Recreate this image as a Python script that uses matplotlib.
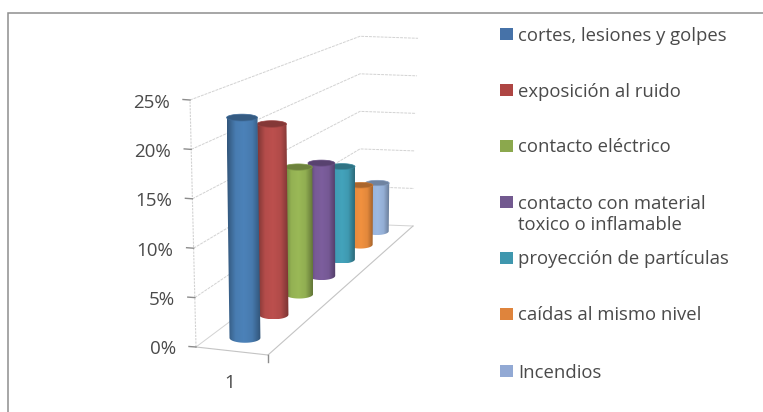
import numpy as np
import matplotlib
matplotlib.use('Agg')
import matplotlib.pyplot as plt
from matplotlib.patches import Polygon, Rectangle
from matplotlib.colors import to_rgb, LinearSegmentedColormap

categories = ['cortes, lesiones y golpes', 'exposición al ruido', 'contacto eléctrico',
              'contacto con material\ntoxico o inflamable', 'proyección de partículas',
              'caídas al mismo nivel', 'Incendios']
values = [22.8, 20.6, 14.3, 13.2, 11.3, 7.5, 6.3]
value_ticks = [0, 5, 10, 15, 20, 25]
tick_labels = ['0%', '5%', '10%', '15%', '20%', '25%']
category_label = '1'
body_colors = ['#4A7FB5', '#B84E4C', '#97B555', '#7A5C9A', '#42A0B8', '#EC8E3E', '#9AB6DE']
legend_colors = ['#4672A8', '#AE4543', '#8BA84D', '#72598F', '#3F97AE', '#DF843C', '#92A9D4']
legend_y = [34, 90, 146, 202, 258, 314, 371]

plt.rcParams['font.family'] = ['Open Sans', 'DejaVu Sans']
fig = plt.figure(figsize=(7.63, 4.12), dpi=100)
ax = fig.add_axes([0, 0, 1, 1])
ax.set_xlim(0, 763); ax.set_ylim(412, 0); ax.axis('off')

# oblique scene projection: floor corners on screen, then height & lean
src = np.array([[0, 0], [1, 0], [0, 1], [1, 1]], float)
dst = np.array([[196, 347], [268, 355], [360, 224], [413, 226]], float)
A = []; b = []
for (u, v), (X, Y) in zip(src, dst):
    A.append([u, v, 1, 0, 0, 0, -u * X, -v * X]); b.append(X)
    A.append([0, 0, 0, u, v, 1, -u * Y, -v * Y]); b.append(Y)
H = np.append(np.linalg.solve(np.array(A), np.array(b)), 1).reshape(3, 3)
PX_PER_UNIT = 9.88
BACK_SCALE = 0.76
k = 1 / BACK_SCALE - 1

def project(u, d, val=0.0):
    p = H @ np.array([u, d, 1.0])
    s = 1 / (1 + k * d)
    lean = -6 * (1 - d) * (1 - u) + 5 * u * d - 1 * (1 - d) * u
    return p[0] / p[2] + lean * val / 25, p[1] / p[2] - val * PX_PER_UNIT * s

GRID = '#D2D2D2'
AXIS = '#8C8C8C'
TXT = '#4A4A4A'

# walls' gridlines
for v in value_ticks:
    a, b_, c = project(0, 0, v), project(0, 1, v), project(1, 1, v)
    ax.plot([a[0], b_[0], c[0]], [a[1], b_[1], c[1]], color=GRID, lw=0.7, ls=(0, (3, 1)) if v else '-', zorder=1)
    ax.plot([a[0] - 7, a[0]], [a[1] - 0.5, a[1]], color=AXIS, lw=1.0, zorder=2)
for v, lab in zip(value_ticks, tick_labels):
    a = project(0, 0, v)
    ax.text(a[0] - 20, a[1] + 2.5, lab, ha='right', va='center', fontsize=13.5, color=TXT)
a, b_ = project(0, 0, 0), project(0, 0, 25)
ax.plot([a[0], b_[0]], [a[1], b_[1]], color=GRID, lw=0.8, ls=(0, (2, 1)), zorder=1)
# floor
for (p, q) in [((0, 0), (1, 0)), ((1, 0), (1, 1))]:
    a, b_ = project(*p), project(*q)
    ax.plot([a[0], b_[0]], [a[1], b_[1]], color='#C4C4C4', lw=0.8, zorder=1)
a = project(1, 0)
ax.plot([a[0], a[0]], [a[1], a[1] + 7], color=AXIS, lw=1.0, zorder=2)
ax.text(230, 383, category_label, ha='center', va='center', fontsize=13.5, color=TXT)

# cylinders, back to front
n = len(values)
DIAM = 0.44
U = 0.47
theta = np.linspace(0, np.pi, 40)
for i in range(n - 1, -1, -1):
    d = (i + 0.5) / n
    s = 1 / (1 + k * d)
    x0, y0 = project(U, d, 0)
    x1, y1 = project(U, d, values[i])
    rx = 0.5 * DIAM * (project(1, d)[0] - project(0, d)[0])
    ryb, ryt = 5.0 * s, 3.5 * s
    z = 5 + (n - i) * 2
    xs = np.r_[x1 - rx, x0 + rx * np.cos(np.pi - theta), x1 + rx]
    ys = np.r_[y1, y0 + ryb * np.sin(np.pi - theta), y1]
    body = Polygon(np.c_[xs, ys], closed=True, fc='none', ec='none')
    ax.add_patch(body)
    base = np.array(to_rgb(body_colors[i]))
    cmap = LinearSegmentedColormap.from_list('c', [base * 0.68, base * 0.98, base * 1.02, base * 0.96, base * 0.66])
    lo, hi = min(x0, x1) - rx, max(x0, x1) + rx
    im = ax.imshow(np.linspace(0, 1, 64)[None, :], cmap=cmap, extent=(lo, hi, y0 + ryb, y1 - ryt),
                   aspect='auto', zorder=z, interpolation='bilinear')
    im.set_clip_path(body)
    t2 = np.linspace(0, 2 * np.pi, 60)
    ax.add_patch(Polygon(np.c_[x1 + rx * np.cos(t2), y1 + ryt * np.sin(t2)], closed=True,
                         fc=base * 0.72, ec=base * 0.85, lw=0.5, zorder=z + 1))
ax.set_xlim(0, 763); ax.set_ylim(412, 0)

# legend
for lab, y, col in zip(categories, legend_y, legend_colors):
    ax.add_patch(Rectangle((500, y - 6), 12.5, 12, fc=col, ec='none', zorder=3))
    ax.text(518, y - 7.5, lab, ha='left', va='top', fontsize=13.3, color=TXT, linespacing=1.25)

# frame
ax.plot([8, 8, 763], [412, 13, 13], color='#8E8E8E', lw=1.1, zorder=1, solid_joinstyle='miter')

fig.savefig('out.png', dpi=100)
